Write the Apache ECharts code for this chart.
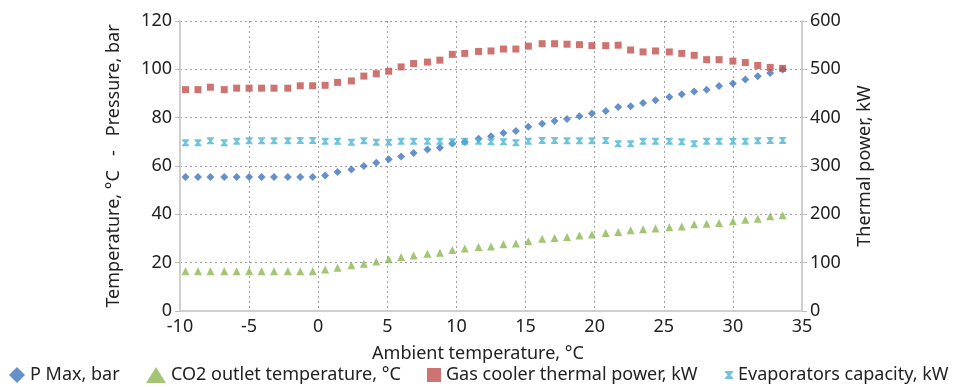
<!DOCTYPE html>
<html><head><meta charset="utf-8">
<script src="https://cdn.jsdelivr.net/npm/echarts@6/dist/echarts.min.js"></script>
<style>html,body{margin:0;padding:0;background:#fff}#c{width:962px;height:387px}</style>
</head><body><div id="c"></div>
<script>
const ambient = [-9.6,-8.7,-7.8,-6.8,-5.9,-5.0,-4.1,-3.2,-2.2,-1.3,-0.4,0.5,1.4,2.4,3.3,4.2,5.1,6.0,6.9,7.9,8.8,9.7,10.6,11.6,12.5,13.4,14.3,15.2,16.2,17.1,18.0,18.9,19.8,20.8,21.7,22.6,23.5,24.4,25.4,26.3,27.2,28.1,29.0,30.0,30.9,31.8,32.7,33.6];
const pMax = [55.4,55.4,55.4,55.4,55.4,55.4,55.4,55.4,55.4,55.4,55.4,56.1,57.5,58.6,60.0,61.3,62.8,63.9,65.4,66.8,67.6,69.3,69.9,71.3,72.3,73.7,74.5,76.2,77.5,78.6,79.5,80.6,81.7,82.8,84.4,84.7,86.1,87.2,88.6,89.7,90.8,91.6,93.1,94.1,95.8,97.1,98.5,99.9];
const co2Outlet = [16.5,16.5,16.5,16.5,16.5,16.5,16.5,16.5,16.5,16.5,16.5,17.2,17.9,18.9,19.6,20.5,21.4,22.3,23.0,23.7,24.1,25.2,25.9,26.5,26.7,27.6,27.9,28.9,29.9,30.2,30.6,31.2,31.7,32.3,32.7,33.4,33.8,34.1,34.7,35.0,35.9,36.1,36.4,37.1,37.8,38.2,39.2,39.6];
const gasCooler = [458,458,463,458,461,461,461,461,461,466,466,467,473,476,486,491,496,505,512,515,519,531,533,537,538,542,542,548,553,553,552,551,549,549,550,540,536,538,536,533,529,520,520,517,514,508,504,502];
const evaporators = [348,348,352,348,351,352,352,352,352,353,353,351,351,349,352,349,349,351,351,351,351,350,351,351,350,350,348,351,353,353,352,352,352,353,346,346,351,351,351,350,346,351,351,351,351,352,353,353];
const leftTicks = [0,20,40,60,80,100,120];
const rightTicks = [0,100,200,300,400,500,600];
const xTicks = [-10,-5,0,5,10,15,20,25,30,35];
const seriesNames = ['P Max, bar', 'CO2 outlet temperature, °C', 'Gas cooler thermal power, kW', 'Evaporators capacity, kW'];

const font = 'Noto Sans';
const pair = (xs, ys) => xs.map((x, i) => [x, ys[i]]);
const xMark = 'path://M0,0L10,0L10,1.6L6.6,5L10,8.4L10,10L0,10L0,8.4L3.4,5L0,1.6Z';
const colors = ['#3e74bd', '#8db651', '#c0504d', '#4bb4d2'];
const icons = ['diamond', 'triangle', 'rect', xMark];
const legendLeft = [9, 146, 427, 725];
const legendSize = [[16, 16], [20, 16], [14, 14], [8, 8]];

const chart = echarts.init(document.getElementById('c'), null, {renderer: 'canvas'});
chart.setOption({
  animation: false,
  textStyle: {fontFamily: font},
  grid: {left: 180, right: 160, top: 21, bottom: 76, containLabel: false},
  xAxis: {
    type: 'value', min: -10, max: 35, interval: 5,
    name: 'Ambient temperature, °C', nameLocation: 'middle', nameGap: 34,
    nameTextStyle: {fontSize: 18, color: '#222', padding: [0, 26, 0, 0]},
    axisLine: {show: true, onZero: false, lineStyle: {color: '#cfcfcf', width: 2}},
    axisTick: {show: false},
    axisLabel: {fontSize: 18, color: '#222', margin: 7, formatter: v => xTicks.includes(v) ? String(v) : ''},
    splitLine: {show: true, lineStyle: {color: '#a0a0a0', type: [2, 3], width: 1}}
  },
  yAxis: [{
    type: 'value', min: 0, max: 120, interval: 20, position: 'left',
    name: 'Temperature, °C   -   Pressure, bar', nameLocation: 'middle', nameGap: 57, nameRotate: 90,
    nameTextStyle: {fontSize: 18, color: '#222'},
    axisLine: {show: true, onZero: false, lineStyle: {color: '#cfcfcf', width: 2}},
    axisTick: {show: true, length: 5, lineStyle: {color: '#bdbdbd'}},
    axisLabel: {fontSize: 18, color: '#222', margin: 8, formatter: v => leftTicks.includes(v) ? String(v) : ''},
    splitLine: {show: true, lineStyle: {color: '#a0a0a0', type: [2, 3], width: 1}}
  }, {
    type: 'value', min: 0, max: 600, interval: 100, position: 'right',
    name: 'Thermal power, kW', nameLocation: 'middle', nameGap: 54, nameRotate: 90,
    nameTextStyle: {fontSize: 18, color: '#222'},
    axisLine: {show: true, onZero: false, lineStyle: {color: '#cfcfcf', width: 2}},
    axisTick: {show: true, length: 5, lineStyle: {color: '#bdbdbd'}},
    axisLabel: {fontSize: 18, color: '#222', margin: 8, formatter: v => rightTicks.includes(v) ? String(v) : ''},
    splitLine: {show: false}
  }],
  legend: seriesNames.map((n, i) => ({
    bottom: 0, left: legendLeft[i], itemWidth: legendSize[i][0], itemHeight: legendSize[i][1],
    textStyle: {fontSize: 18, color: '#222'}, padding: [3, 0, 3, 0],
    data: [{name: n, icon: icons[i]}]
  })),
  series: [
    {name: seriesNames[0], type: 'scatter', yAxisIndex: 0, symbol: 'diamond', symbolSize: 8,
     itemStyle: {color: colors[0]}, data: pair(ambient, pMax)},
    {name: seriesNames[1], type: 'scatter', yAxisIndex: 0, symbol: 'triangle', symbolSize: 8,
     itemStyle: {color: colors[1]}, data: pair(ambient, co2Outlet)},
    {name: seriesNames[2], type: 'scatter', yAxisIndex: 1, symbol: 'rect', symbolSize: 7,
     itemStyle: {color: colors[2]}, data: pair(ambient, gasCooler)},
    {name: seriesNames[3], type: 'scatter', yAxisIndex: 1, symbol: xMark, symbolSize: 7,
     itemStyle: {color: colors[3]}, data: pair(ambient, evaporators)}
  ]
});
</script></body></html>
